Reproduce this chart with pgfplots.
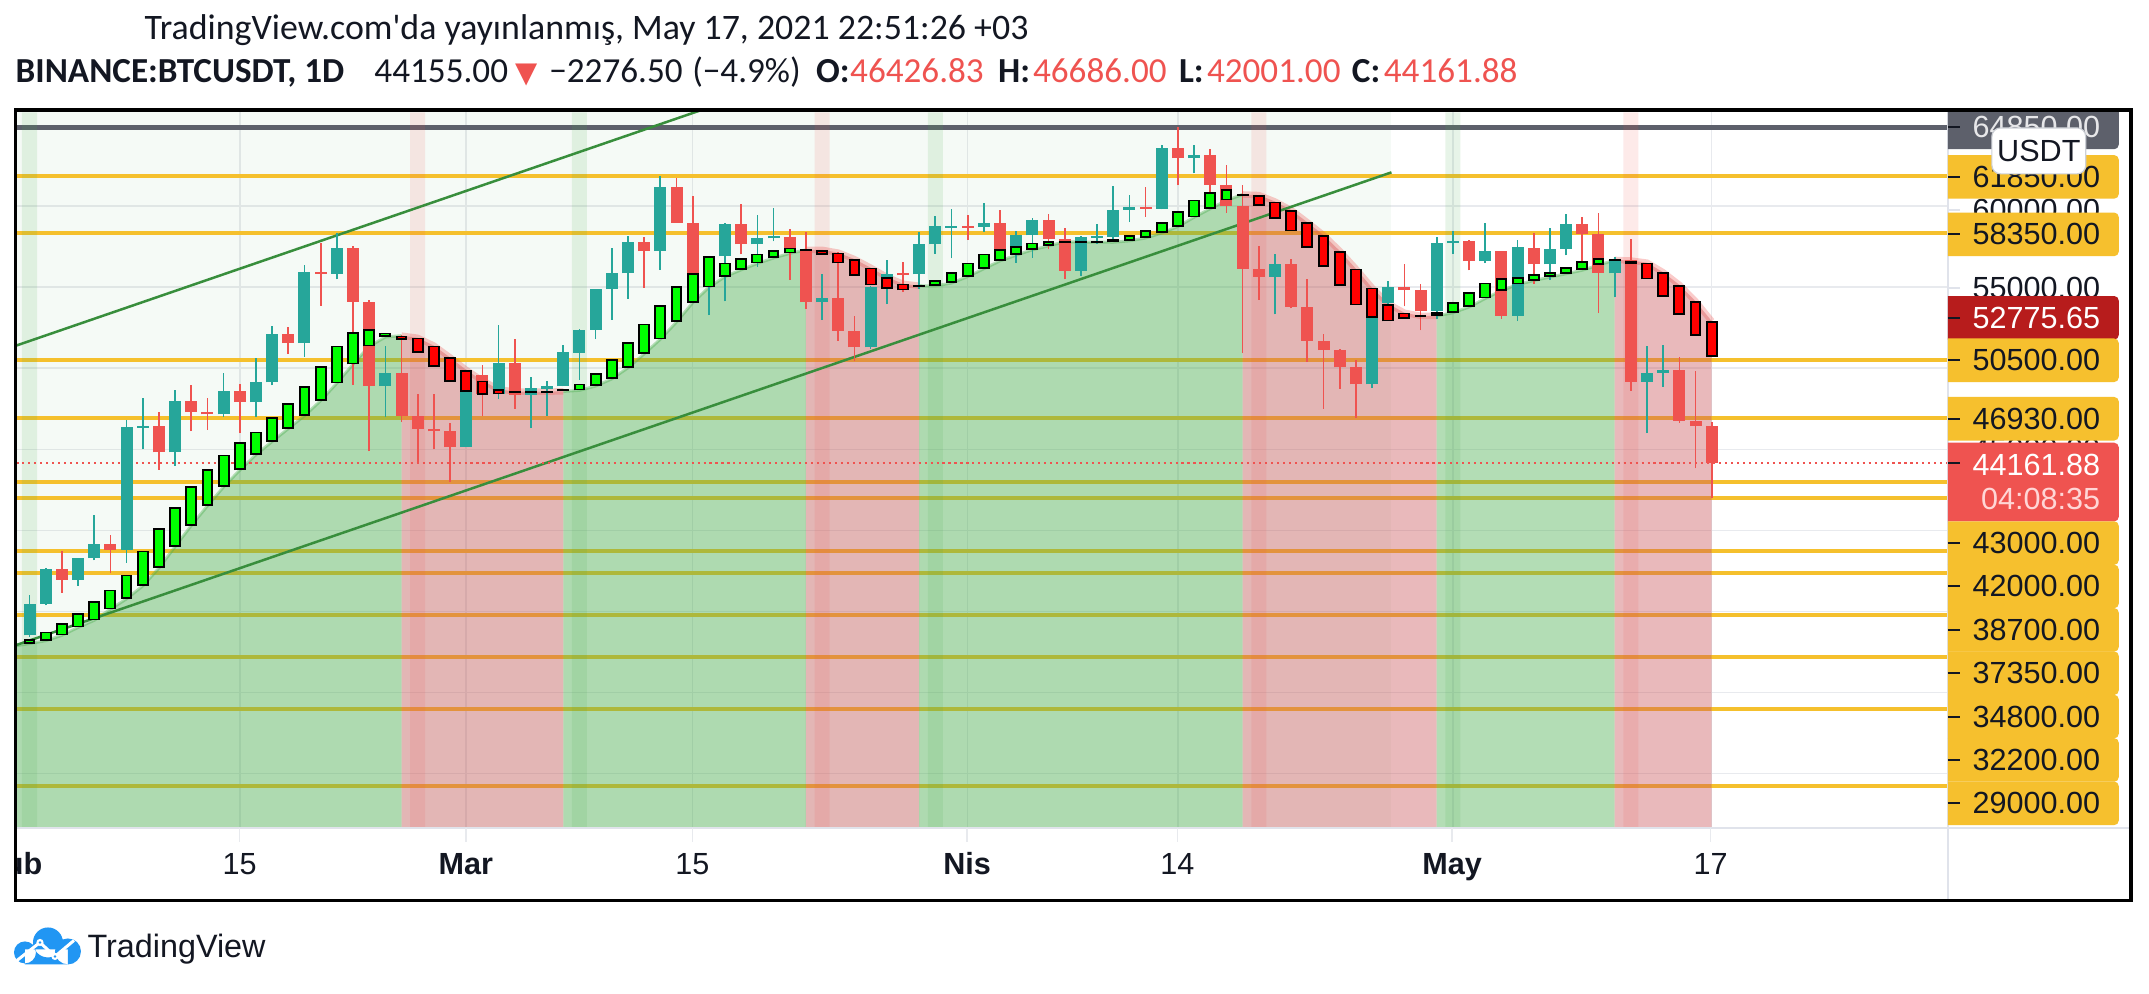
\documentclass[border=0pt]{standalone}
\usepackage{fontspec}
\setmainfont{Liberation Sans}
\newfontfamily\hdr{Carlito}
\newfontfamily\sym{DejaVu Sans}
\usepackage{pgfplots}
\usepackage{pgfplotstable}
\pgfplotsset{compat=1.18}

\definecolor{tvteal}{RGB}{38,166,154}
\definecolor{tvred}{RGB}{239,83,80}
\definecolor{lvl}{RGB}{245,192,45}
\definecolor{lblyel}{RGB}{246,192,46}
\definecolor{ath}{RGB}{93,96,107}
\definecolor{chan}{RGB}{56,142,60}
\definecolor{fillg}{RGB}{76,175,80}
\definecolor{fillr}{RGB}{200,80,85}
\definecolor{gridc}{RGB}{232,234,238}
\definecolor{sepc}{RGB}{224,227,235}
\definecolor{txt}{RGB}{19,23,34}
\definecolor{darkred}{RGB}{183,28,28}
\definecolor{tvblue}{RGB}{33,150,243}
\definecolor{halime}{RGB}{0,255,0}
\definecolor{hared}{RGB}{255,0,0}

% d = days after 1 Feb 2021; candle OHLC; hO/hC = smoothed HA body
\pgfplotstableread{
d O H L C hO hC
0 33092 34717 32296 33515 32850 33010
1 33515 35984 33418 35466 33012 33299
2 35466 37662 35362 37619 33189 33741
3 37619 38708 36161 36937 33520 34293
4 36937 38310 36570 38290 34006 34910
5 38290 40955 38138 39186 34447 35638
6 39186 39700 37351 38795 35131 36344
7 38795 46794 37988 46374 35771 37271
8 46374 48142 45000 46420 36565 38749
9 46420 47310 43727 44807 37668 40139
10 44807 48678 43995 47969 38992 41419
11 47969 48985 46125 47287 40294 42721
12 47287 48150 46202 47153 41507 43758
13 47153 49707 47015 48577 42677 44662
14 48577 49010 46000 47911 43714 45434
15 47911 50623 47003 49133 44662 46096
16 49133 52619 48947 52119 45479 46979
17 52119 52530 50901 51552 46273 47862
18 51552 56368 50710 55906 47067 48899
19 55906 57700 53863 55841 47994 50112
20 55841 58352 55477 57408 49075 51392
21 57413 57534 48967 54087 50245 52230
22 54087 54183 44892 48891 51347 52407
23 48891 51374 47004 49676 51921 52186
24 49676 52041 46674 47073 52010 51745
25 47073 48424 44106 46276 51877 50951
26 46276 48394 45000 46106 51392 50068
27 46107 46638 43000 45135 50664 49141
28 45134 49790 45115 49587 49892 48523
29 49595 50200 47047 48440 49230 48347
30 48436 52640 48100 50349 48700 48391
31 50349 51773 47500 48374 48560 48490
32 48374 49448 46300 48751 48560 48500
33 48746 49200 47070 48882 48560 48500
34 48883 51450 48882 50971 48568 48744
35 50971 52402 49274 52376 48634 49053
36 52376 54895 51789 54885 48899 49715
37 54875 57387 53005 55851 49340 50553
38 55851 58150 54272 57773 50024 51612
39 57773 58081 54962 57221 50884 52759
40 57221 61844 56078 61188 51789 53907
41 61188 61724 58966 58968 52847 55076
42 58976 60633 54600 55605 54039 55871
43 55605 56938 53271 56900 54988 56908
44 56900 58982 54123 58913 55650 56511
45 58912 60100 57023 57649 56070 56798
46 57641 59468 56270 58031 56466 57062
47 58030 59880 57820 58102 56798 57283
48 58100 58589 55450 57351 57084 57437
49 57351 58430 53650 54083 57300 57260
50 54083 55830 53000 54341 57305 56974
51 54342 57200 51700 52303 57129 56466
52 52303 53240 50427 51293 56731 55694
53 51293 55073 51214 55025 56202 55121
54 55025 56700 53950 55818 55628 54878
55 55817 56559 54691 55777 55209 54812
56 55782 58400 54900 57635 55090 55020
57 57635 59368 57071 58746 55076 55429
58 58741 59800 56769 58741 55253 55915
59 58739 59461 57935 58720 55650 56511
60 58720 60200 58428 58950 56136 57062
61 58950 59791 56955 57051 56621 57327
62 57052 58492 56500 58202 56974 57548
63 58202 59251 56800 59129 57305 57746
64 59130 59500 57333 57991 57548 57857
65 57991 58650 55473 56000 57800 57760
66 56000 58153 55700 58082 57790 57750
67 58083 58869 57672 58092 57780 57740
68 58093 61218 57875 59778 57769 57945
69 59778 60659 59016 59964 57857 58188
70 59964 61200 59350 59835 58033 58519
71 59836 63777 59805 63577 58342 59004
72 63575 64854 61301 62960 58739 59710
73 62959 63800 62020 63160 59313 60394
74 63159 63520 60000 61334 59842 60879
75 61334 62506 59580 60007 60350 61056
76 60006 61287 50931 56150 60720 60680
77 56150 57526 54221 55633 60681 59997
78 55634 57076 53329 56425 60284 59203
79 56425 56757 53695 53787 59754 58452
80 53787 55500 50400 51690 59004 57437
81 51690 52130 47500 51111 58210 56246
82 51110 51200 48734 50050 57239 55098
83 50047 50500 46930 49004 56136 53885
84 49005 54356 48800 54021 54966 53113
85 54021 55400 53000 55033 53973 52892
86 55033 56428 53813 54824 53421 53025
87 54825 55200 52330 53555 53230 53210
88 53556 58075 53013 57750 53223 53443
89 57714 58460 57050 57828 53421 54083
90 57829 57900 56035 56610 53775 54701
91 56610 58981 56478 57213 54304 55275
92 57214 57214 53046 53242 54790 55540
93 53252 57911 52901 57473 55165 55628
94 57441 58363 55200 56429 55408 55783
95 56413 58644 55442 57380 55628 55937
96 57353 59500 56957 58928 55827 56246
97 58928 59300 56235 58280 56047 56621
98 58280 59592 53400 55865 56356 56798
99 55860 56888 54370 56704 56680 56650
100 56704 58000 48600 49150 56643 56422
101 49150 51367 46000 49716 56511 55474
102 49735 51440 48857 49880 55915 54414
103 49878 50700 46650 46760 55143 53289
104 46762 49800 43825 46431 54127 52010
105 46426.83 46686 42001 44161.88 52900 50686
}\btc

\newcommand\plab{\fontsize{8.7pt}{10pt}\selectfont}
\newcommand\hsz{\fontsize{10.2pt}{12pt}\selectfont}
\newcommand\hszb{\fontsize{10pt}{12pt}\selectfont}
% price-scale label: y centre (px), box colour, text colour, text
\newcommand\pbox[4]{%
  \fill[#2,rounded corners=1.3pt] (1930,#1-21.8) rectangle (2120,#1+21.8);
  \draw[txt,line width=0.02cm] (1949,#1) -- (1961,#1);
  \node[anchor=east,inner sep=0,font=\plab,text=#3] at (2102,#1) {#4};}

\begin{document}
\begin{tikzpicture}
\fill[white] (0,0) rectangle (21.49,-9.94);
\begin{axis}[
  at={(0.164cm,-8.286cm)}, anchor=south west,
  width=19.326cm, height=7.162cm, scale only axis,
  xmin=0.19, xmax=119.67, ymin=21599, ymax=65782,
  axis line style={draw=none}, major tick length=0pt,
  xtick={14,28,42,59,72,89,105}, ytick={25000,30000,...,60000},
  xticklabels={}, yticklabels={}, scaled y ticks=false, scaled x ticks=false,
  xmajorgrids, ymajorgrids, grid style={gridc, line width=0.015cm},
  candle/.style={-, line cap=butt, mark=none},
]
% faint channel background
\addplot[draw=none, fill=fillg, fill opacity=0.05] coordinates {(0.19,65782) (85.2,65782)} \closedcycle;

% horizontal levels
\addplot[ath, line width=0.043cm] coordinates {(0.19,64850) (119.67,64850)};
\pgfplotsinvokeforeach{61850,58350,50500,46930,43000,42000,38700,37350,34800,32200,29000,24200}{
  \addplot[lvl, line width=0.04cm] coordinates {(0.19,#1) (119.67,#1)};
}

% trend area under the smoothed line
\addplot[draw=none, fill=fillg, fill opacity=0.42, restrict x to domain=0:24] table[x=d,y=hO]{\btc} \closedcycle;
\addplot[draw=none, fill=fillr, fill opacity=0.40, restrict x to domain=24:34] table[x=d,y=hO]{\btc} \closedcycle;
\addplot[draw=none, fill=fillg, fill opacity=0.42, restrict x to domain=34:49] table[x=d,y=hO]{\btc} \closedcycle;
\addplot[draw=none, fill=fillr, fill opacity=0.40, restrict x to domain=49:56] table[x=d,y=hO]{\btc} \closedcycle;
\addplot[draw=none, fill=fillg, fill opacity=0.42, restrict x to domain=56:76] table[x=d,y=hO]{\btc} \closedcycle;
\addplot[draw=none, fill=fillr, fill opacity=0.40, restrict x to domain=76:88] table[x=d,y=hO]{\btc} \closedcycle;
\addplot[draw=none, fill=fillg, fill opacity=0.42, restrict x to domain=88:99] table[x=d,y=hO]{\btc} \closedcycle;
\addplot[draw=none, fill=fillr, fill opacity=0.40, restrict x to domain=99:105] table[x=d,y=hO]{\btc} \closedcycle;

% signal day bands
\addplot[ybar, bar width=0.93, draw=none, fill=fillg, fill opacity=0.13] coordinates {(1,65782) (35,65782) (57,65782) (89,65782)};
\addplot[ybar, bar width=0.93, draw=none, fill=tvred, fill opacity=0.12] coordinates {(25,65782) (50,65782) (77,65782) (100,65782)};

% smoothed line edge
\pgfplotsinvokeforeach{0:24,34:49,56:76,88:99}{
  \addplot[fillg, opacity=0.4, line width=0.03cm, line join=round, restrict x to domain=#1] table[x=d,y=hO]{\btc};
}
\pgfplotsinvokeforeach{24:34,49:56,76:88,99:105}{
  \addplot[tvred, opacity=0.3, line width=0.065cm, line join=round, restrict x to domain=#1] table[x=d,y=hO]{\btc};
}

% parallel channel
\addplot[chan, line width=0.025cm] coordinates {(0.19,51400) (42.4,65880)};
\addplot[chan, line width=0.025cm] coordinates {(0.19,32925) (85.2,62083)};

% last price
\addplot[tvred, line width=0.015cm, dash pattern=on 0.6pt off 1.1pt] coordinates {(0.19,44161.88) (119.67,44161.88)};

% candles: wicks (L to H)
\addplot[tvteal, candle, line width=0.017cm,
  restrict expr to domain={(\thisrow{d}>0.5) ? (\thisrow{C}-\thisrow{O}) : (-1)}{0:1000000},
  quiver={u=0, v={\thisrow{H}-\thisrow{L}}}]
  table[x=d, y=L]{\btc};
\addplot[tvred, candle, line width=0.017cm,
  restrict expr to domain={(\thisrow{d}>0.5) ? (\thisrow{O}-\thisrow{C}) : (-1)}{0.001:1000000},
  quiver={u=0, v={\thisrow{H}-\thisrow{L}}}]
  table[x=d, y=L]{\btc};
% candles: bodies (min(O,C) to max(O,C), at least 120)
\addplot[tvteal, candle, line width=0.12cm,
  restrict expr to domain={(\thisrow{d}>0.5) ? (\thisrow{C}-\thisrow{O}) : (-1)}{0:1000000},
  quiver={u=0, v={2*max(abs(\thisrow{C}-\thisrow{O})/2,60)}}]
  table[x=d, y expr={(\thisrow{O}+\thisrow{C})/2-max(abs(\thisrow{C}-\thisrow{O})/2,60)}]{\btc};
\addplot[tvred, candle, line width=0.12cm,
  restrict expr to domain={(\thisrow{d}>0.5) ? (\thisrow{O}-\thisrow{C}) : (-1)}{0.001:1000000},
  quiver={u=0, v={2*max(abs(\thisrow{C}-\thisrow{O})/2,60)}}]
  table[x=d, y expr={(\thisrow{O}+\thisrow{C})/2-max(abs(\thisrow{C}-\thisrow{O})/2,60)}]{\btc};

% smoothed Heikin-Ashi boxes: black outline, then coloured core
\addplot[black, candle, line width=0.118cm, restrict x to domain=0.5:200,
  quiver={u=0, v={2*max(abs(\thisrow{hC}-\thisrow{hO})/2,60)}}]
  table[x=d, y expr={(\thisrow{hO}+\thisrow{hC})/2-max(abs(\thisrow{hC}-\thisrow{hO})/2,60)}]{\btc};
\addplot[halime, candle, line width=0.078cm,
  restrict expr to domain={(\thisrow{d}>0.5) ? (\thisrow{hC}-\thisrow{hO}) : (-1)}{230:1000000},
  quiver={u=0, v={\thisrow{hC}-\thisrow{hO}-210}}]
  table[x=d, y expr={\thisrow{hO}+105}]{\btc};
\addplot[hared, candle, line width=0.078cm,
  restrict expr to domain={(\thisrow{d}>0.5) ? (\thisrow{hO}-\thisrow{hC}) : (-1)}{230:1000000},
  quiver={u=0, v={\thisrow{hO}-\thisrow{hC}-210}}]
  table[x=d, y expr={\thisrow{hC}+105}]{\btc};
\end{axis}

\begin{scope}[x=0.01cm,y=-0.01cm]
% header
\node[anchor=base west,inner sep=0,text=txt] at (144,40) {\hdr\hsz TradingView.com'da yayınlanmış, May 17, 2021 22:51:26 +03};
\begin{scope}[every node/.style={anchor=base west,inner sep=0,text=txt}]
\node at (15,83) {\hdr\hszb\bfseries BINANCE:BTCUSDT, 1D};
\node at (374,83) {\hdr\hszb 44155.00};
\node[text=tvred] at (515,83) {\sym\fontsize{8.2pt}{10pt}\selectfont ▼};
\node at (549,83) {\hdr\hszb −2276.50};
\node at (692,83) {\hdr\hszb (−4.9\%)};
\node at (816,83) {\hdr\hszb\bfseries O:};
\node[text=tvred] at (850,83) {\hdr\hszb 46426.83};
\node at (998,83) {\hdr\hszb\bfseries H:};
\node[text=tvred] at (1033,83) {\hdr\hszb 46686.00};
\node at (1179,83) {\hdr\hszb\bfseries L:};
\node[text=tvred] at (1207,83) {\hdr\hszb 42001.00};
\node at (1352,83) {\hdr\hszb\bfseries C:};
\node[text=tvred] at (1384,83) {\hdr\hszb 44161.88};
\end{scope}

% separators
\draw[sepc,line width=0.015cm] (1949,110) -- (1949,901);
\draw[sepc,line width=0.015cm] (15,828.6) -- (2133,828.6);
\foreach \x in {239.8,466.2,692.7,967.7,1178,1452.9,1711.7}
  \draw[gridc,line width=0.015cm] (\x,828.6) -- (\x,842);

% time labels
\begin{scope}
\clip (17,829) rectangle (1949,900);
\begin{scope}[every node/.style={anchor=base,inner sep=0,text=txt,font=\plab}]
\node at (13.35,875) {\bfseries Şub};
\node at (239.8,875) {15};
\node at (466.2,875) {\bfseries Mar};
\node at (692.7,875) {15};
\node at (967.7,875) {\bfseries Nis};
\node at (1178,875) {14};
\node at (1452.9,875) {\bfseries May};
\node at (1711.7,875) {17};
\end{scope}
\end{scope}

% price scale
\begin{scope}
\clip (1949,110) rectangle (2133,828);
\foreach \yy/\tt in {210/60000.00,288/55000.00,449/45000.00}{
  \draw[sepc,line width=0.02cm] (1949,\yy) -- (1961,\yy);
  \node[anchor=east,inner sep=0,font=\plab,text=txt] at (2102,\yy) {\tt};}
\pbox{127.5}{ath}{white!85!ath}{64850.00}
\pbox{177}{lblyel}{txt}{61850.00}
\pbox{234.5}{lblyel}{txt}{58350.00}
\pbox{318}{darkred}{white}{52775.65}
\pbox{360.5}{lblyel}{txt}{50500.00}
\pbox{419}{lblyel}{txt}{46930.00}
\fill[tvred,rounded corners=1.3pt] (1930,443) rectangle (2120,521.7);
\draw[txt,line width=0.02cm] (1949,463) -- (1961,463);
\node[anchor=east,inner sep=0,font=\plab,text=white] at (2102,465) {44161.88};
\node[anchor=east,inner sep=0,font=\plab,text={rgb,255:red,255;green,214;blue,214}] at (2102,499) {04:08:35};
\pbox{543.4}{lblyel}{txt}{43000.00}
\pbox{586.8}{lblyel}{txt}{42000.00}
\pbox{630.2}{lblyel}{txt}{38700.00}
\pbox{673.6}{lblyel}{txt}{37350.00}
\pbox{717}{lblyel}{txt}{34800.00}
\pbox{760.4}{lblyel}{txt}{32200.00}
\pbox{803.8}{lblyel}{txt}{29000.00}
\draw[fill=white,draw={rgb,255:red,205;green,208;blue,214},line width=0.012cm,rounded corners=2.5pt] (1993,128) rectangle (2087,174);
\node[inner sep=0,font=\plab,text=txt] at (2040,151) {USDT};
\end{scope}

% frame
\draw[black,line width=0.035cm] (15.4,110) rectangle (2132,901);

% footer logo
\fill[tvblue] (25,953) circle (11) (48,943) circle (15) (68,952) circle (13) (25,950) rectangle (68,965);
\draw[white,line width=0.03cm,line join=round] (17,961) -- (40,943) -- (55,957) -- (74,941);
\fill[white] (40,943) circle (3.6) (55,957) circle (3.6);
\fill[tvblue] (40,943) circle (1.4) (55,957) circle (1.4);
\node[anchor=base west,inner sep=0,text=txt,font={\fontsize{9.2pt}{11pt}\selectfont}] at (87,958) {TradingView};
\end{scope}
\pgfresetboundingbox
\path[use as bounding box] (0,0) rectangle (21.49,-9.94);
\end{tikzpicture}
\end{document}
